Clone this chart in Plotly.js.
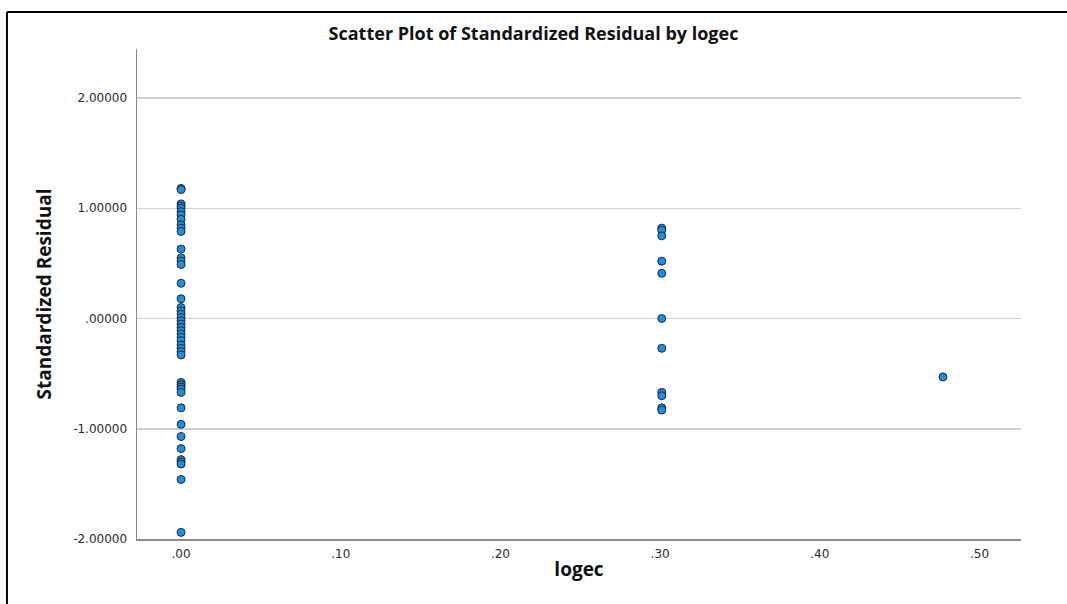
<!DOCTYPE html>
<html>
<head>
<meta charset="utf-8">
<script src="https://cdn.plot.ly/plotly-3.0.1.min.js"></script>
<style>
  html, body { margin: 0; padding: 0; background: #fff; overflow: hidden; }
  #chart { width: 1067px; height: 604px; }
</style>
</head>
<body>
<div id="chart"></div>
<script>
// logec = 0.00 group
const residAt000 = [1.18, 1.17, 1.04, 1.02, 1.00, 0.97, 0.94, 0.90, 0.85, 0.82, 0.79,
  0.63, 0.55, 0.52, 0.49, 0.32, 0.18, 0.10, 0.07, 0.04, 0.01, -0.02, -0.05, -0.08,
  -0.11, -0.14, -0.17, -0.20, -0.24, -0.27, -0.30, -0.33, -0.58, -0.60, -0.62,
  -0.64, -0.67, -0.81, -0.96, -1.07, -1.18, -1.28, -1.30, -1.32, -1.46, -1.94];
// logec = 0.30 group
const residAt030 = [0.82, 0.80, 0.75, 0.52, 0.41, 0.00, -0.27, -0.67, -0.70, -0.81, -0.83];
// logec = 0.477 group
const residAt048 = [-0.53];
const logecLevels = [0.0, 0.30103, 0.47712];

const xTickVals = [0, 0.1, 0.2, 0.3, 0.4, 0.5];
const xTickText = [".00", ".10", ".20", ".30", ".40", ".50"];
const yTickVals = [-2, -1, 0, 1, 2];
const yTickText = ["-2.00000", "-1.00000", ".00000", "1.00000", "2.00000"];

const groups = [residAt000, residAt030, residAt048];
const xs = [], ys = [];
groups.forEach((g, i) => g.forEach(v => { xs.push(logecLevels[i]); ys.push(v); }));

const trace = {
  x: xs, y: ys, type: 'scatter', mode: 'markers',
  marker: { size: 8, color: '#1a8fe3', line: { color: '#1f2a33', width: 1 } },
  cliponaxis: false, hoverinfo: 'x+y'
};

const tickFont = { family: 'DejaVu Sans, sans-serif', size: 12, color: '#2b2b2b' };
const titleFamily = 'Open Sans, sans-serif';
const layout = {
  width: 1067, height: 604,
  margin: { l: 137, r: 46, t: 49, b: 65 },
  paper_bgcolor: '#fff', plot_bgcolor: '#fff',
  showlegend: false,
  title: { text: '<b>Scatter Plot of Standardized Residual by logec</b>',
           font: { family: titleFamily, size: 18, color: '#111' },
           x: 0.5, xanchor: 'center', y: 0.945, yanchor: 'middle' },
  xaxis: {
    range: [-0.0276, 0.526], tickvals: xTickVals, ticktext: xTickText,
    showgrid: false, zeroline: false, showline: true, linecolor: '#8a8a8a', linewidth: 1.5,
    ticks: '', tickfont: tickFont, ticklabelstandoff: 3,
    title: { text: '<b>logec</b>', font: { family: titleFamily, size: 19, color: '#111' }, standoff: 3 }
  },
  yaxis: {
    range: [-2.0, 2.445], tickvals: yTickVals, ticktext: yTickText,
    showgrid: true, gridcolor: '#d0d0d0', gridwidth: 1.5, zeroline: false,
    showline: true, linecolor: '#8a8a8a', linewidth: 1.5,
    ticks: '', tickfont: tickFont, ticklabelstandoff: 6,
    title: { text: '<b>Standardized Residual</b>', font: { family: titleFamily, size: 19, color: '#111' }, standoff: 16 }
  },
  shapes: [
    { type: 'line', xref: 'paper', yref: 'paper', x0: -0.1471, x1: 1.1, y0: 1.0755, y1: 1.0755,
      line: { color: '#000', width: 2 } },
    { type: 'line', xref: 'paper', yref: 'paper', x0: -0.1471, x1: -0.1471, y0: 1.0755, y1: -0.2,
      line: { color: '#000', width: 2 } }
  ]
};

Plotly.newPlot('chart', [trace], layout, { displayModeBar: false, staticPlot: true });
</script>
</body>
</html>
